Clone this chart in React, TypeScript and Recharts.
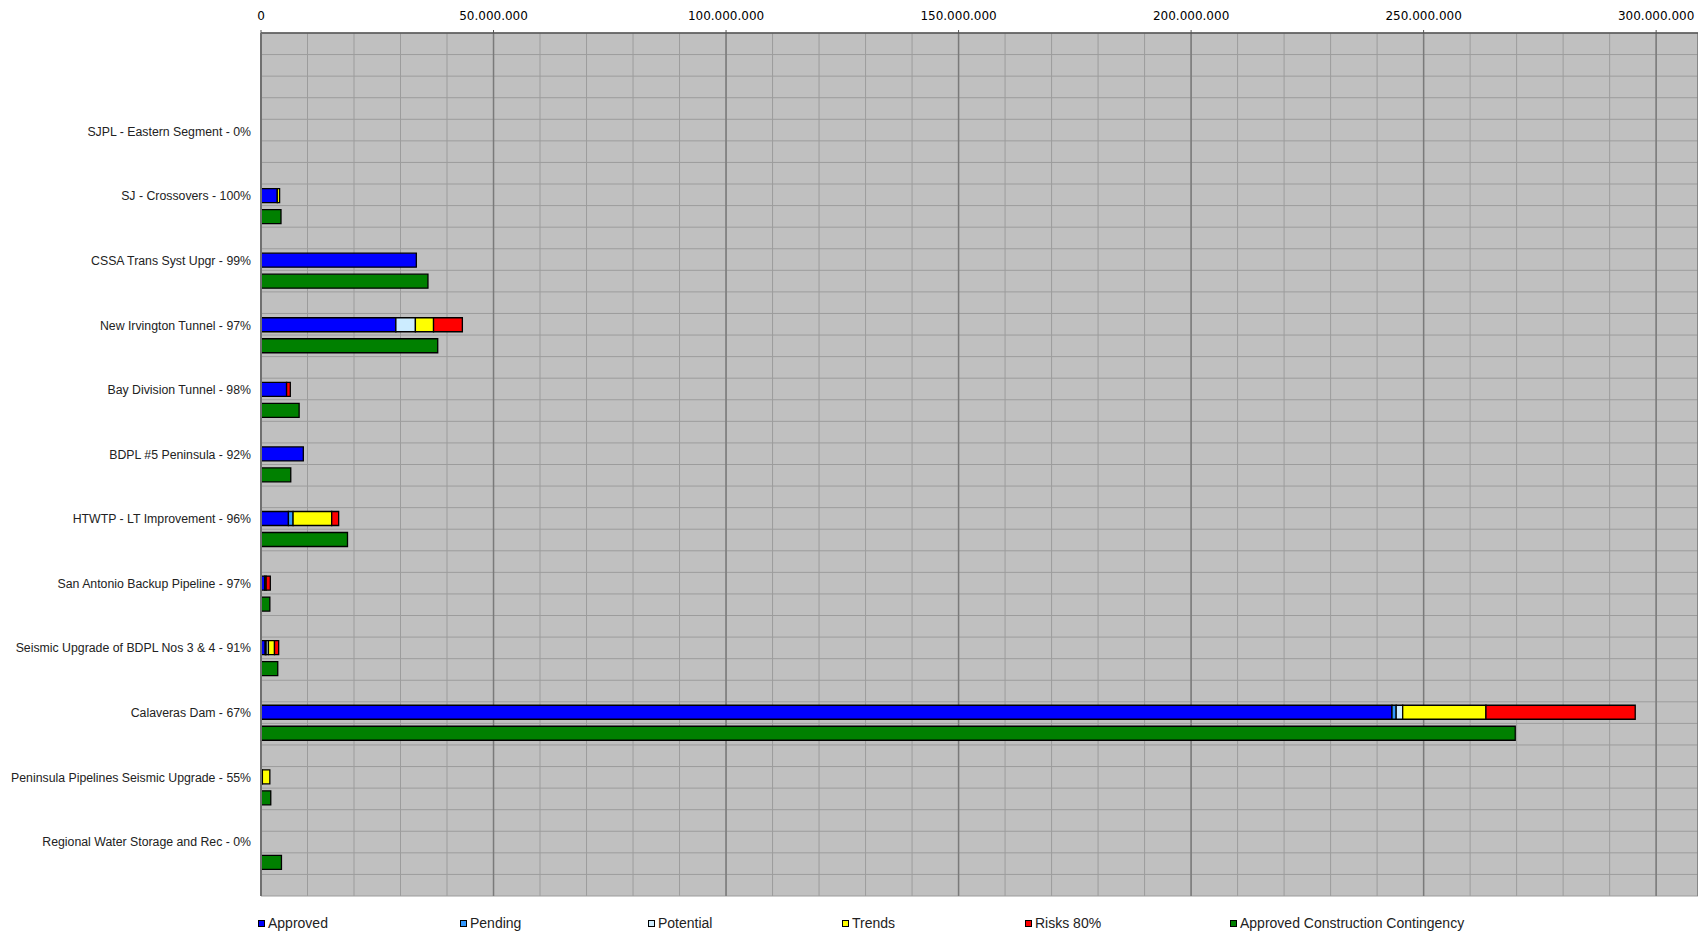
import React from 'react';
import { BarChart, Bar, XAxis, YAxis, CartesianGrid, Legend } from 'recharts';

const categories = [
  'SJPL - Eastern Segment - 0%',
  'SJ - Crossovers - 100%',
  'CSSA Trans Syst Upgr - 99%',
  'New Irvington Tunnel - 97%',
  'Bay Division Tunnel - 98%',
  'BDPL #5 Peninsula - 92%',
  'HTWTP - LT Improvement - 96%',
  'San Antonio Backup Pipeline - 97%',
  'Seismic Upgrade of BDPL Nos 3 & 4 - 91%',
  'Calaveras Dam - 67%',
  'Peninsula Pipelines Seismic Upgrade - 55%',
  'Regional Water Storage and Rec - 0%',
];

const approved = [0, 3.5e6, 33.4e6, 29.0e6, 5.5e6, 9.1e6, 5.9e6, 0.8e6, 0.9e6, 243.2e6, 0.3e6, 0];
const pending = [0, 0, 0, 0, 0, 0, 1.0e6, 0, 0.2e6, 0.9e6, 0, 0];
const potential = [0, 0, 0, 4.2e6, 0, 0, 0, 0, 0.5e6, 1.4e6, 0, 0];
const trends = [0, 0.5e6, 0, 3.9e6, 0, 0, 8.3e6, 0.3e6, 1.3e6, 17.9e6, 1.6e6, 0];
const risks = [0, 0, 0, 6.2e6, 0.8e6, 0, 1.5e6, 0.9e6, 0.9e6, 32.1e6, 0, 0];
const contingency = [0, 4.3e6, 35.9e6, 38.0e6, 8.2e6, 6.4e6, 18.6e6, 1.9e6, 3.6e6, 269.7e6, 2.1e6, 4.4e6];

const seriesNames = ['Approved', 'Pending', 'Potential', 'Trends', 'Risks 80%', 'Approved Construction Contingency'];
const seriesKeys = ['approved', 'pending', 'potential', 'trends', 'risks', 'contingency'];
const seriesColors = ['#0000FF', '#3399FF', '#CCECFF', '#FFFF00', '#FF0000', '#008000'];

const majorTicks = [0, 50e6, 100e6, 150e6, 200e6, 250e6, 300e6];
const minorTicks = [
  0, 10e6, 20e6, 30e6, 40e6, 50e6, 60e6, 70e6, 80e6, 90e6, 100e6,
  110e6, 120e6, 130e6, 140e6, 150e6, 160e6, 170e6, 180e6, 190e6, 200e6,
  210e6, 220e6, 230e6, 240e6, 250e6, 260e6, 270e6, 280e6, 290e6, 300e6,
];
const GRID_ROWS = 40;

// legend layout (style only)
const legendLeft = [258, 460, 648, 842, 1025, 1230];

const data = categories.map((name, i) => ({
  name,
  approved: approved[i],
  pending: pending[i],
  potential: potential[i],
  trends: trends[i],
  risks: risks[i],
  contingency: contingency[i],
}));

const fmt = (v: number) => String(Math.round(v)).replace(/\B(?=(\d{3})+(?!\d))/g, '.');

const rowLines = (props: any) => {
  const off = props.offset || {};
  const top = off.top ?? 0;
  const h = off.height ?? 0;
  return Array.from({ length: GRID_ROWS + 1 }, (_, i) => top + (i * h) / GRID_ROWS);
};

const CatTick = (props: any) => {
  const { x, y, payload } = props;
  return (
    <text
      x={x}
      y={y}
      dy={-5.5}
      textAnchor="end"
      fill="#222"
      style={{ fontFamily: '"Liberation Sans", Arial, sans-serif', fontSize: 12.3 }}
    >
      {payload.value}
    </text>
  );
};

const renderLegend = () => {
  return (
    <div style={{ position: 'relative', height: 37, width: 1698, fontFamily: '"Liberation Sans", Arial, sans-serif', fontSize: 14, color: '#222' }}>
      {seriesNames.map((name, i) => (
        <div
          key={name}
          style={{ position: 'absolute', left: legendLeft[i], top: 19, height: 16, lineHeight: '16px', display: 'flex', alignItems: 'center', whiteSpace: 'nowrap' }}
        >
          <span style={{ display: 'inline-block', width: 5, height: 5, border: '1px solid #000', background: seriesColors[i], marginRight: 3 }} />
          <span>{name}</span>
        </div>
      ))}
    </div>
  );
};

export default function App() {
  return (
    <div style={{ position: 'absolute', left: 0, top: 0, width: 1698, height: 933, background: '#fff', overflow: 'hidden' }}>
      <BarChart
        width={1698}
        height={933}
        data={data}
        layout="vertical"
        margin={{ top: 0, right: 0, bottom: 0, left: 0 }}
        barSize={14}
        barGap={7}
      >
        <CartesianGrid
          xAxisId="minor"
          yAxisId="cat"
          stroke="#9c9c9c"
          fill="#C0C0C0"
          fillOpacity={1}
          horizontalCoordinatesGenerator={rowLines}
        />
        <CartesianGrid xAxisId="main" yAxisId="cat" horizontal={false} stroke="#7a7a7a" strokeWidth={1.5} />
        <XAxis
          xAxisId="main"
          type="number"
          orientation="top"
          domain={[0, 309e6]}
          ticks={majorTicks}
          interval={0}
          tickFormatter={fmt}
          height={33}
          tickSize={3}
          tickMargin={10}
          axisLine={{ stroke: '#555', strokeWidth: 1.5 }}
          tickLine={{ stroke: '#555' }}
          tick={{ fill: '#000', fontSize: 12, fontFamily: '"DejaVu Sans", Verdana, sans-serif' }}
          allowDataOverflow
        />
        <XAxis xAxisId="minor" type="number" domain={[0, 309e6]} ticks={minorTicks} interval={0} hide allowDataOverflow />
        <XAxis
          xAxisId="frame"
          type="number"
          orientation="bottom"
          domain={[0, 309e6]}
          height={0}
          tick={false}
          tickLine={false}
          axisLine={{ stroke: '#707070', strokeWidth: 2 }}
          allowDataOverflow
        />
        <YAxis
          yAxisId="cat"
          type="category"
          dataKey="name"
          width={261}
          padding={{ top: 76, bottom: 12 }}
          tick={<CatTick />}
          tickLine={false}
          tickSize={0}
          tickMargin={10}
          interval={0}
          axisLine={{ stroke: '#707070', strokeWidth: 2 }}
        />
        {seriesKeys.slice(0, 5).map((k, i) => (
          <Bar
            key={k}
            dataKey={k}
            name={seriesNames[i]}
            stackId="s"
            xAxisId="main"
            yAxisId="cat"
            fill={seriesColors[i]}
            stroke="#000"
            strokeWidth={1.3}
            isAnimationActive={false}
          />
        ))}
        <Bar
          dataKey={seriesKeys[5]}
          name={seriesNames[5]}
          xAxisId="main"
          yAxisId="cat"
          fill={seriesColors[5]}
          stroke="#000"
          strokeWidth={1.3}
          isAnimationActive={false}
        />
        <Legend content={renderLegend} verticalAlign="bottom" height={37} />
      </BarChart>
    </div>
  );
}
